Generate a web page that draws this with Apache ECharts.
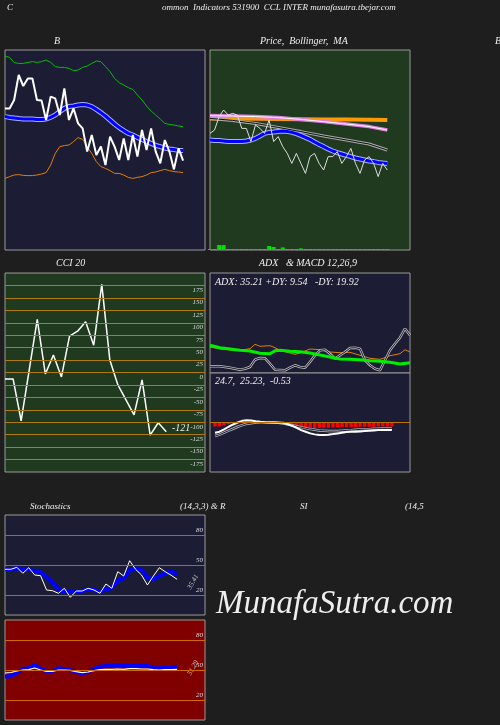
<!DOCTYPE html>
<html><head><meta charset="utf-8">
<script src="https://cdn.jsdelivr.net/npm/echarts@6/dist/echarts.min.js"></script>
<style>html,body{margin:0;padding:0;background:#1e1e1e}#c{width:500px;height:725px}</style>
</head><body><div id="c"></div>
<script>
// ---- Bollinger panel (B)
const bbPrice=[70.8,70.8,75,87.5,82,85.8,85.8,75,74.7,65,76.7,75.8,67.5,80.8,65,70.8,63.3,60.8,49.2,57.5,47.5,51.7,42.5,56.7,51.7,45,55.8,45,57.5,46.7,60,50,60.8,49.2,43.3,55,49.2,40.3,50.8,44.7];
const bbMid=[66.7,66.3,66,65.7,65.5,65.5,65.5,65.3,65.3,65.5,66.3,67.5,69.2,70.8,71.7,72,72.5,72.8,72.5,71.7,70.3,68.7,67,65,63,61.2,59.7,58.3,57.5,56.3,55.3,54.2,53.3,52.3,51.7,51,50.5,50.2,49.8,49.7];
const bbUp=[97,96.3,93.7,93.3,93.3,93.8,94.2,93.8,94.2,95,93.8,91.7,91.3,91.3,90.8,89.7,90,91.3,92,93.3,94.5,94.2,91.7,89.2,85.8,83.7,82.5,81.2,80.3,77.5,75,72,69.5,67.5,65.5,63.3,62.8,62.5,62,61.7];
const bbLow=[35.8,36.7,37.5,37.7,37.3,37.2,37.2,37.5,38,38.7,42.5,48.3,51.7,52.2,52.5,54.2,56.2,55.3,51.7,48.3,44.2,41.7,40.8,39.7,38.3,38.3,37.5,36.3,35.8,36.3,36.7,37.5,38.7,39,39.7,40.3,39.7,39.2,39,38.7];
// ---- Price, Bollinger, MA panel
const pPrice=[58.3,60,66.7,70,67.5,68.3,67.5,60.8,60.8,54.2,62.5,60.8,58.3,65,54.2,56.7,51.7,48.3,43.3,48.3,43.3,38.3,46.7,48.3,43.3,40,46.7,46.7,49.2,43.3,46.7,50.8,43.3,38.3,45,46.7,43.3,36.7,43.3,40];
const pMA20=[55,54.8,54.7,54.5,54.3,54.2,54.2,54.3,54.5,55,55.8,57,58.3,58.8,59,59.3,59.5,59.3,58.8,58.2,57.3,56.3,55.3,54,52.8,51.7,50.5,49.5,48.7,48,47.3,46.7,46,45.5,45,44.5,44.2,43.8,43.5,43.3];
const pSparseIdx=[0,5,10,15,20,25,30,35,39];
const pMA50=[65.8,64.8,63.3,61.3,59.2,57,55,53,50];
const pMA100=[67.2,67,66.7,66.2,65.3,64.2,63,61.7,60];
const pMA200=[65.8,65.7,65.6,65.5,65.4,65.3,65.2,65.1,65];
const pVol=[0.5,0.5,2.5,2.5,0.5,0.5,0.5,0.5,0.5,0.5,0.5,0.5,0.5,2,1.5,0.5,1.3,0.5,0.5,0.5,0.8,0.5,0.5,0.5,0.5,0.5,0.5,0.5,0.5,0.5,0.5,0.5,0.5,0.5,0.5,0.5,0.5,0.5,0.5,0.5];
// ---- CCI 20
const cci=[-13,-13,-97,5,107,-3,35,-9,73,83,102,55,177,25,-25,-55,-85,-15,-126,-101,-119];
const cciLevels=[175,150,125,100,75,50,25,0,-25,-50,-75,-100,-125,-150,-175];
// ---- ADX
const adxIdx=[0,2,4,6,8,10,12,13,14,16,18,20,22,24,26,28,30,32,34,36,38,40];
const adxVal=[27.7,25.3,24,22.7,22,19.7,19.3,22.3,22.7,21.7,21.3,20,18,16,14,13.7,13.3,12.3,11.7,10.7,9,10.3];
const dmIdx=[0,2,4,6,8,9,10,12,13,14,16,17,18,20,22,24,26,28,30,32,34,35,36,38,39,40];
const dmMinus=[26,24,23,22.7,24.3,28.7,26.7,27.3,25.3,22.7,20,18.7,20,24,23.3,21,20.3,20.7,17.7,14.7,13.7,15.3,17.3,19.3,23.3,21];
const dmPlus=[6.7,6.7,6.7,6,5.3,4.3,3.3,4.3,6,13.3,15,14.7,9.3,3.3,3,2.7,5.3,7.7,6,5.3,11,17.7,22.7,23.3,19.3,14.3,17.7,21,25,25.3,24.3,12.7,7.7,4.3,2.7,12.7,22.7,29.3,35.3,44.3,37.7];
// ---- MACD
const macd=[-10.3,-9.3,-7,-4.3,-2,0,1.7,2.3,2,1.3,0.7,0.3,0,0,-0.3,-0.3,-1.7,-3.3,-5.3,-7.7,-9.3,-11,-12,-12.7,-12.7,-12.3,-11.7,-11,-10.3,-9.7,-9.3,-9.3,-9,-8.7,-8.3,-8,-7.7,-7.7,-7.7,-7.7];
const signal=[-13.7,-12.3,-10.3,-8.3,-6.3,-4.3,-2.7,-1.3,-0.7,0,0.3,0.3,0.3,0,-0.3,-1,-1.7,-2.7,-3.7,-4.7,-5.7,-6.7,-7.3,-8,-8.3,-8.7,-8.7,-8.7,-8.3,-8,-7.7,-7.3,-7,-6.7,-6.7,-6.3,-6.3,-6,-6,-6];
const hist=[-4,-4,-3,-1.5,-0.5,0,0,0,0,0,0,0,0,0,0,-0.5,-1.5,-2.5,-3.5,-4.5,-5,-5.5,-5.5,-5.5,-5.5,-5.3,-5,-5,-4.7,-4.7,-4.7,-4.7,-4.3,-4.3,-4.3,-4.3,-4,-4,-4,-4];
// ---- Stochastics / RSI
const stochK=[45.7,45.7,47.7,41.7,47.3,40,39.3,25,24.3,21.7,26.7,17.7,24,24,26.7,25,21.7,31,26.7,43.3,39,54.3,45.7,40,30,39,47.3,43.3,39.7,35.7];
const stochD=[45.7,46,46.7,45.7,45,44.3,43,37.7,32.3,25.7,23.3,23.3,23.7,24.3,25.3,25,23.3,25.3,27.3,34.3,36.7,45,46.7,45,37.7,35.7,39,41.7,44,40];
const rsiBlue=[43.3,44,47.3,51,51.7,55,51,49,49,51.7,51,50,48.3,46.7,48.3,51,53.3,54,54,55,54,54.7,54.7,54.3,54.3,52,51.7,52.3,52.7,53.3];
const rsiWhite=[47,47.5,49,50,50.3,52,50,48.7,48.7,50,50,49.7,48.3,47.3,48,49.3,50.3,50.7,50.7,51,50.7,51.3,51.3,51,51,50.3,50,50.3,50.3,50.7];
const oscLevels=[80,50,20];

const F='"Liberation Serif","DejaVu Serif",serif';
const ix=a=>a.map((v,i)=>[i,v]);
const px=(idx,a)=>idx.map((x,k)=>[x,a[k]]);
const ln=(g,data,color,w,z)=>({type:'line',xAxisIndex:g,yAxisIndex:g,data,symbol:'none',silent:true,z:z||2,lineStyle:{color,width:w},connectNulls:true});
const levels=(g,vals,color,pos,labels)=>({type:'line',xAxisIndex:g,yAxisIndex:g,data:[],markLine:{silent:true,symbol:'none',animation:false,
  lineStyle:{color,width:1,type:'solid'},label:{show:labels,position:pos,formatter:p=>p.value,color:'#ddd',fontSize:7,fontStyle:'italic',fontFamily:F,distance:[2,1]},
  data:vals.map(v=>({yAxis:v}))}});
const grids=[[5,50,200,200,'#1c1c34'],[210,50,200,200,'#1f3a1f'],[5,273,200,199,'#1f3a1f'],[210,273,200,100,'#1c1c34'],[210,373,200,99,'#1c1c34'],[5,515,200,100,'#1c1c34'],[5,620,200,100,'#800000']];
const xr=[[0,43.8],[0,44],[0,24.8],[0,40],[-1.1,43],[0,33.7],[0,33.7]];
const yr=[[0,100],[0,100],[-200,200],[0,100],[-50,50],[0,100],[0,100]];
const txt=(x,y,t,s,extra)=>Object.assign({type:'text',left:x,top:y,style:{text:t,fill:'#eee',font:'italic '+s+'px '+F}},extra||{});
const rot=(x,y,t)=>({type:'text',x:x,y:y,rotation:Math.PI/3,style:{text:t,fill:'#ccc',font:'italic 7px '+F}});

const opt={backgroundColor:'#1e1e1e',animation:false,
 grid:grids.map(g=>({left:g[0],top:g[1],width:g[2],height:g[3],show:true,backgroundColor:g[4],borderColor:'#999',borderWidth:1})),
 xAxis:xr.map((r,i)=>({type:'value',gridIndex:i,min:r[0],max:r[1],show:false})),
 yAxis:yr.map((r,i)=>({type:'value',gridIndex:i,min:r[0],max:r[1],show:false})),
 series:[
  ln(0,ix(bbUp),'#00c000',1),ln(0,ix(bbLow),'#e08000',1),
  ln(0,ix(bbMid),'#aab0ff',5),ln(0,ix(bbMid),'#0000ff',3,3),
  ln(0,ix(bbPrice),'#ffffff',2,4),
  {type:'bar',xAxisIndex:1,yAxisIndex:1,data:ix(pVol),barWidth:4,itemStyle:{color:'#00dd00'},silent:true},
  ln(1,px(pSparseIdx,pMA200),'#ff9900',4),
  ln(1,px(pSparseIdx,pMA100),'#e080e0',3.5),ln(1,px(pSparseIdx,pMA100),'#ffffff',1,3),
  ln(1,px(pSparseIdx,pMA50),'#aaaaaa',3),ln(1,px(pSparseIdx,pMA50),'#111111',1,3),
  ln(1,ix(pMA20),'#aab0ff',5),ln(1,ix(pMA20),'#0000ff',3,3),
  ln(1,ix(pPrice),'#dddddd',1,4),
  levels(2,cciLevels,'#b07a10','insideEndBottom',true),
  ln(2,ix(cci),'#ffffff',1.5,4),
  ln(3,px(dmIdx,dmMinus),'#e08000',1),
  ln(3,ix(dmPlus),'#bbbbbb',2.5),ln(3,ix(dmPlus),'#1c1c34',1,3),
  ln(3,px(adxIdx,adxVal),'#00ee00',3,4),
  levels(4,[0],'#c07000','end',false),
  {type:'bar',xAxisIndex:4,yAxisIndex:4,data:ix(hist),barWidth:3.4,itemStyle:{color:'#ff0000'},silent:true},
  ln(4,ix(signal),'#bbbbbb',2.5),ln(4,ix(signal),'#1c1c34',1,3),
  ln(4,ix(macd),'#ffffff',2,4),
  levels(5,oscLevels,'#b06a10','insideEndTop',true),
  ln(5,ix(stochD),'#0000ff',4),ln(5,ix(stochK),'#ffffff',1,4),
  levels(6,oscLevels,'#d06a00','insideEndTop',true),
  ln(6,ix(rsiBlue),'#0000ff',4),ln(6,ix(rsiWhite),'#ffffff',1.2,4)
 ],
 graphic:[
  txt(7,3,'C',9),
  txt(162,3,'ommon  Indicators 531900  CCL INTER munafasutra.tbejar.com',9),
  txt(54,36,'B',10),txt(260,36,'Price,  Bollinger,  MA',10),txt(495,36,'B',10),
  txt(56,258,'CCI 20',10),txt(259,258,'ADX   & MACD 12,26,9',10),
  txt(215,277,'ADX: 35.21 +DY: 9.54   -DY: 19.92',10),
  txt(215,376,'24.7,  25.23,  -0.53',10),
  txt(172,423,'-121',10),
  txt(30,502,'Stochastics',9),txt(180,502,'(14,3,3) & R',9),txt(300,502,'SI',9),txt(405,502,'(14,5',9),
  rot(186,587,'35.41'),
  rot(186,673,'51.29'),
  txt(216,588,'MunafaSutra.com',33)
 ]};
echarts.init(document.getElementById('c')).setOption(opt);
</script></body></html>
